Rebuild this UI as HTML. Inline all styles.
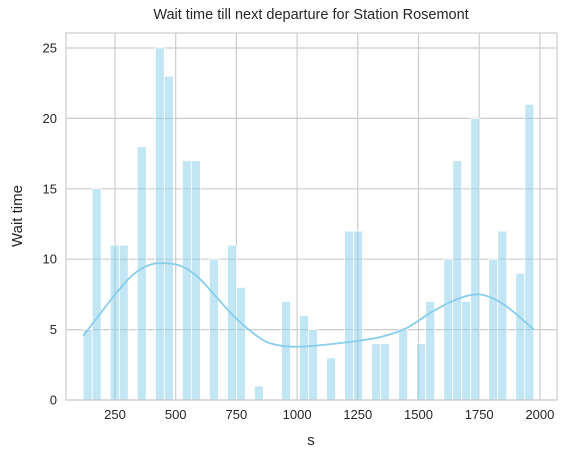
<!DOCTYPE html>
<html><head><meta charset="utf-8"><style>
body{margin:0;background:#fff;width:566px;height:457px;overflow:hidden}
svg text{font-family:"Liberation Sans",sans-serif;fill:#262626}
</style></head><body>
<svg id="chart" width="566" height="457" xmlns="http://www.w3.org/2000/svg">
<text x="311" y="19" font-size="14.5" text-anchor="middle">Wait time till next departure for Station Rosemont</text>
<text transform="translate(22,216) rotate(-90)" font-size="15" text-anchor="middle">Wait time</text>
<text x="311" y="445" font-size="15" text-anchor="middle">s</text>
<g id="grid"></g><g id="bars"></g><g id="kde"></g>
<rect x="66" y="33" width="491" height="367" fill="none" stroke="#cccccc" stroke-width="1.2"/>
</svg>
<script>
const counts=[5,15,0,11,11,0,18,0,25,23,0,17,17,0,10,0,11,8,0,1,0,0,7,0,6,5,0,3,0,12,12,0,4,4,0,5,0,4,7,0,10,17,7,20,0,10,12,0,9,21];
const binStart=119, binEnd=1975;
const xTicks=[250,500,750,1000,1250,1500,1750,2000];
const yTicks=[0,5,10,15,20,25];
const kdeX=[119,185,254,323,391,460,529,597,666,735,803,872,940,1009,1100,1250,1350,1450,1550,1650,1750,1850,1975];
const kdeY=[4.55,6.04,7.57,8.88,9.59,9.71,9.47,8.64,7.34,6.04,4.97,4.14,3.84,3.79,3.9,4.2,4.5,5.1,6.2,7.1,7.5,6.8,5.0];
const NS="http://www.w3.org/2000/svg";
const X=v=>54.3+v*0.2428, Y=v=>400-v*14.08;
function mk(t,a,p){const e=document.createElementNS(NS,t);for(const k in a)e.setAttribute(k,a[k]);p.appendChild(e);return e;}
const grid=document.getElementById('grid'),svg=document.getElementById('chart');
xTicks.forEach(t=>{
 const l=mk('line',{x1:X(t),x2:X(t),y1:33,y2:400,stroke:'#cccccc','stroke-width':1.2},grid);
 
 
 const tx=mk('text',{x:X(t),y:419,'font-size':13,'text-anchor':'middle'},svg);tx.textContent=t;
 
 
});
yTicks.forEach(t=>{
 const l=mk('line',{x1:66,x2:557,y1:Y(t),y2:Y(t),stroke:'#cccccc','stroke-width':1.2},grid);
 
 
 const tx=mk('text',{x:57,y:Y(t)+4.5,'font-size':13,'text-anchor':'end'},svg);tx.textContent=t;
 
 
});
const bw=(binEnd-binStart)/counts.length,bars=document.getElementById('bars');
counts.forEach((c,i)=>{
 if(!c)return;
 const x0=X(binStart+i*bw),x1=X(binStart+(i+1)*bw);
 const r=mk('rect',{x:x0,y:Y(c),width:x1-x0,height:Y(0)-Y(c),fill:'rgba(135,206,235,0.5)',stroke:'#fff','stroke-width':0.8},bars);
 
 
});
const pts=kdeX.map((v,i)=>[X(v),Y(kdeY[i])]);
let d='M'+pts[0][0]+','+pts[0][1];
for(let i=0;i<pts.length-1;i++){
 const p0=pts[i-1]||pts[i],p1=pts[i],p2=pts[i+1],p3=pts[i+2]||p2;
 d+=' C'+(p1[0]+(p2[0]-p0[0])/6)+','+(p1[1]+(p2[1]-p0[1])/6)+' '+(p2[0]-(p3[0]-p1[0])/6)+','+(p2[1]-(p3[1]-p1[1])/6)+' '+p2[0]+','+p2[1];
}
const k=mk('path',{d:d,fill:'none',stroke:'#87ceeb','stroke-width':1.8},document.getElementById('kde'));


</script>
</body></html>
